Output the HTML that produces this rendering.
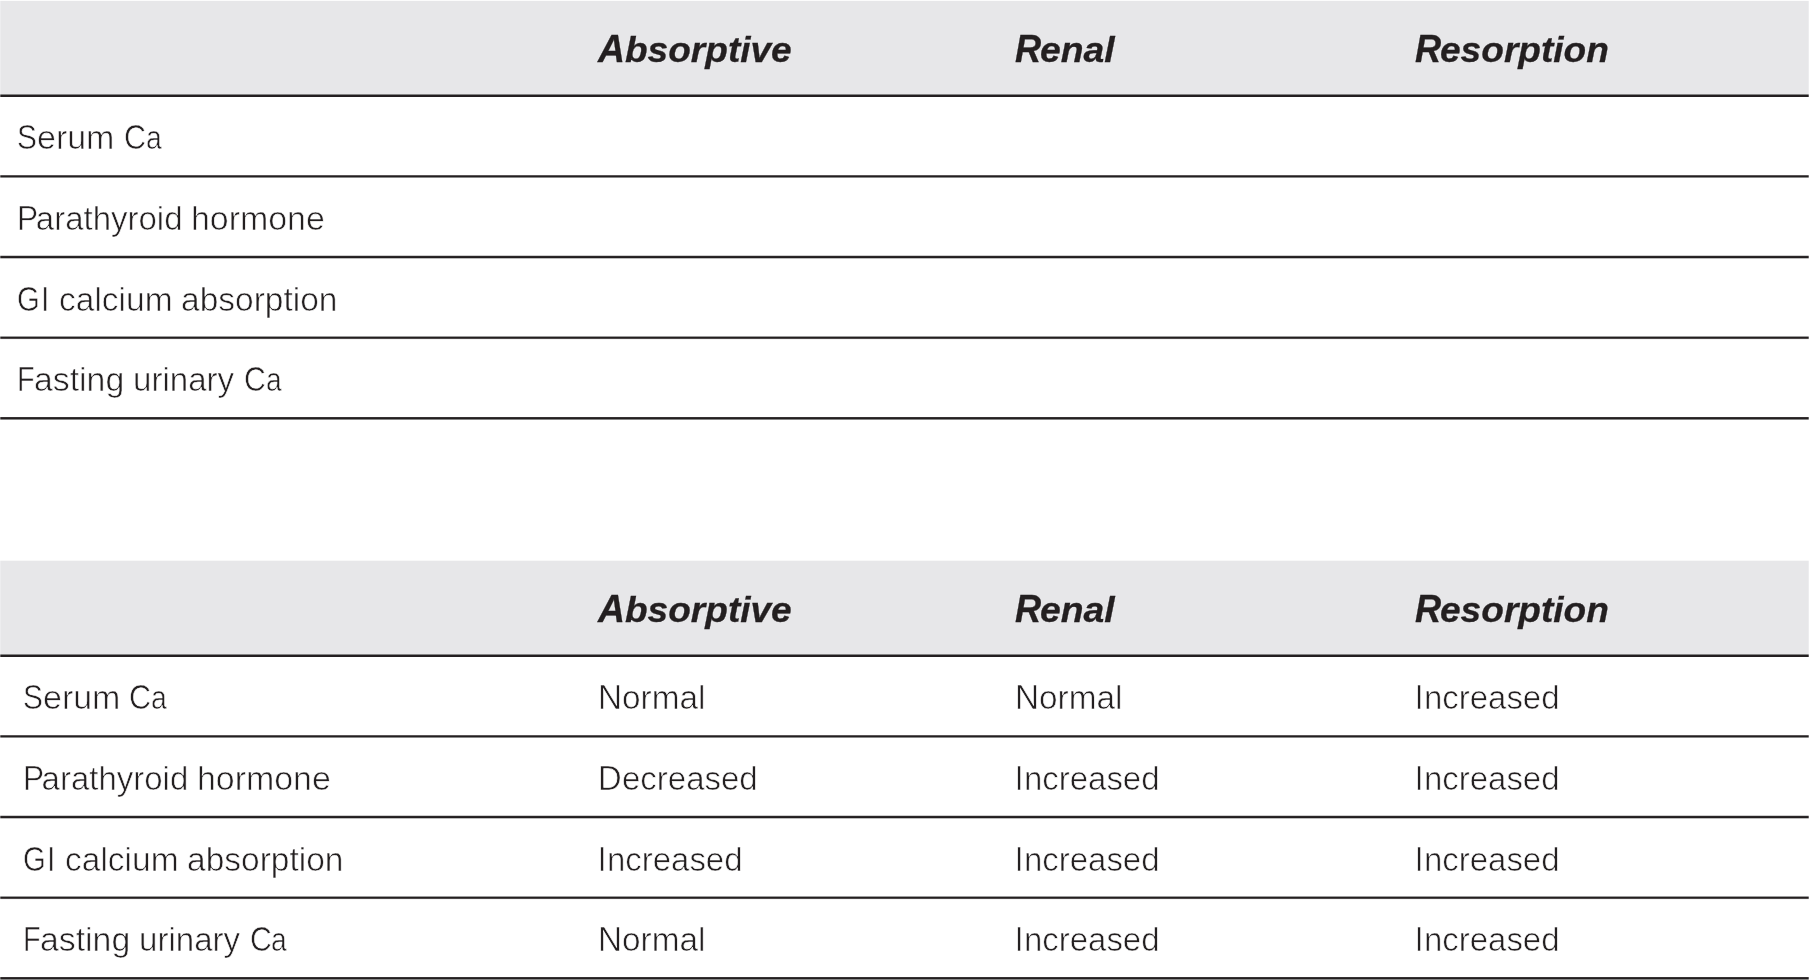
<!DOCTYPE html>
<html><head><meta charset="utf-8"><title>Table</title>
<style>
html,body{margin:0;padding:0;background:#fff;}
body{width:1809px;height:980px;position:relative;overflow:hidden;font-family:"Liberation Sans",sans-serif;color:#231f20;}
.hd{position:absolute;left:0;width:1809px;background:#e7e7e9;}
.ln{position:absolute;left:0;width:1809px;}
#tx{position:absolute;left:0;top:0;width:1809px;height:980px;will-change:transform;}
#tx span{position:absolute;white-space:nowrap;line-height:40px;transform-origin:0 0;}
.tl{font-size:33.0px;-webkit-text-stroke:0.6px #fff;}
.tc{font-size:34.3px;-webkit-text-stroke:0.6px #fff;}
.hl{font-size:35.9px;font-weight:bold;font-style:italic;-webkit-text-stroke:0.3px #231f20;}
.hc{font-size:38.0px;font-weight:bold;font-style:italic;-webkit-text-stroke:0.3px #231f20;}
.ed{position:absolute;top:0;width:1px;height:980px;background:rgba(255,255,255,.28);}
</style></head><body>
<div class="hd" style="top:0px;height:95px;background:linear-gradient(#fcfcfc 0,#fcfcfc 1px,#e7e7e9 1px)"></div>
<div class="ln" style="top:94px;height:3px;background:linear-gradient(#848484 0px,#848484 1px,#231f20 1px,#231f20 2px,#231f20 2px,#231f20 3px)"></div>
<div class="ln" style="top:175px;height:3px;background:linear-gradient(#5a5657 0px,#5a5657 1px,#231f20 1px,#231f20 2px,#8a8a8a 2px,#8a8a8a 3px)"></div>
<div class="ln" style="top:255px;height:4px;background:linear-gradient(#cfcfcf 0px,#cfcfcf 1px,#2a2627 1px,#2a2627 2px,#231f20 2px,#231f20 3px,#bdbdbd 3px,#bdbdbd 4px)"></div>
<div class="ln" style="top:336px;height:4px;background:linear-gradient(#9c9c9c 0px,#9c9c9c 1px,#231f20 1px,#231f20 2px,#4b4748 2px,#4b4748 3px,#f4f4f4 3px,#f4f4f4 4px)"></div>
<div class="ln" style="top:417px;height:3px;background:linear-gradient(#353132 0px,#353132 1px,#231f20 1px,#231f20 2px,#868686 2px,#868686 3px)"></div>
<div class="hd" style="top:560px;height:95px;background:linear-gradient(#f8f8f8 0,#f8f8f8 1px,#e7e7e9 1px)"></div>
<div class="ln" style="top:654px;height:3px;background:linear-gradient(#848484 0px,#848484 1px,#231f20 1px,#231f20 2px,#231f20 2px,#231f20 3px)"></div>
<div class="ln" style="top:735px;height:3px;background:linear-gradient(#5a5657 0px,#5a5657 1px,#231f20 1px,#231f20 2px,#8a8a8a 2px,#8a8a8a 3px)"></div>
<div class="ln" style="top:815px;height:4px;background:linear-gradient(#cfcfcf 0px,#cfcfcf 1px,#2a2627 1px,#2a2627 2px,#231f20 2px,#231f20 3px,#bdbdbd 3px,#bdbdbd 4px)"></div>
<div class="ln" style="top:896px;height:4px;background:linear-gradient(#9c9c9c 0px,#9c9c9c 1px,#231f20 1px,#231f20 2px,#4b4748 2px,#4b4748 3px,#f4f4f4 3px,#f4f4f4 4px)"></div>
<div class="ln" style="top:977px;height:3px;background:linear-gradient(#353132 0px,#353132 1px,#231f20 1px,#231f20 2px,#868686 2px,#868686 3px)"></div>
<div id="tx">
<span class="hc" style="left:597.88px;top:29px;transform:scaleX(0.981)">A</span><span class="hl" style="left:625.28px;top:30px;transform:scaleX(1.032)">bsorptive</span>
<span class="hc" style="left:1014.62px;top:29px;transform:scaleX(0.952)">R</span><span class="hl" style="left:1040.12px;top:30px;transform:scaleX(1.040)">enal</span>
<span class="hc" style="left:1414.62px;top:29px;transform:scaleX(0.952)">R</span><span class="hl" style="left:1440.13px;top:30px;transform:scaleX(1.033)">esorption</span>
<span class="tc" style="left:17.22px;top:117px;transform:scaleX(0.871)">S</span><span class="tl" style="left:37.36px;top:118px;transform:scaleX(1.029)">erum</span> <span class="tc" style="left:123.52px;top:117px;transform:scaleX(0.890)">C</span><span class="tl" style="left:145.59px;top:118px;transform:scaleX(0.861)">a</span>
<span class="tc" style="left:17.23px;top:198px;transform:scaleX(0.924)">P</span><span class="tl" style="left:35.80px;top:199px;transform:scaleX(1.000)">arathyroid</span> <span class="tl" style="left:191.43px;top:199px;transform:scaleX(1.027)">hormone</span>
<span class="tc" style="left:17.49px;top:279px;transform:scaleX(0.855)">G</span><span class="tc" style="left:41.48px;top:279px;transform:scaleX(0.883)">I</span> <span class="tl" style="left:59.22px;top:280px;transform:scaleX(1.015)">calcium</span> <span class="tl" style="left:181.22px;top:280px;transform:scaleX(1.015)">absorption</span>
<span class="tc" style="left:17.47px;top:359px;transform:scaleX(0.842)">F</span><span class="tl" style="left:34.16px;top:360px;transform:scaleX(1.024)">asting</span> <span class="tl" style="left:133.15px;top:360px;transform:scaleX(1.002)">urinary</span> <span class="tc" style="left:243.94px;top:359px;transform:scaleX(0.881)">C</span><span class="tl" style="left:265.70px;top:360px;transform:scaleX(0.855)">a</span>
<span class="hc" style="left:597.88px;top:589px;transform:scaleX(0.981)">A</span><span class="hl" style="left:625.28px;top:590px;transform:scaleX(1.032)">bsorptive</span>
<span class="hc" style="left:1014.62px;top:589px;transform:scaleX(0.952)">R</span><span class="hl" style="left:1040.12px;top:590px;transform:scaleX(1.040)">enal</span>
<span class="hc" style="left:1414.62px;top:589px;transform:scaleX(0.952)">R</span><span class="hl" style="left:1440.13px;top:590px;transform:scaleX(1.033)">esorption</span>
<span class="tc" style="left:22.97px;top:677px;transform:scaleX(0.871)">S</span><span class="tl" style="left:43.11px;top:678px;transform:scaleX(1.029)">erum</span> <span class="tc" style="left:129.27px;top:677px;transform:scaleX(0.890)">C</span><span class="tl" style="left:151.34px;top:678px;transform:scaleX(0.861)">a</span>
<span class="tc" style="left:597.79px;top:677px;transform:scaleX(0.971)">N</span><span class="tl" style="left:621.99px;top:678px;transform:scaleX(1.010)">ormal</span>
<span class="tc" style="left:1014.69px;top:677px;transform:scaleX(0.971)">N</span><span class="tl" style="left:1038.89px;top:678px;transform:scaleX(1.010)">ormal</span>
<span class="tc" style="left:1415.08px;top:677px;transform:scaleX(0.867)">I</span><span class="tl" style="left:1424.00px;top:678px;transform:scaleX(0.998)">ncreased</span>
<span class="tc" style="left:22.98px;top:758px;transform:scaleX(0.924)">P</span><span class="tl" style="left:41.55px;top:759px;transform:scaleX(1.000)">arathyroid</span> <span class="tl" style="left:197.18px;top:759px;transform:scaleX(1.027)">hormone</span>
<span class="tc" style="left:597.84px;top:758px;transform:scaleX(0.955)">D</span><span class="tl" style="left:622.10px;top:759px;transform:scaleX(0.999)">ecreased</span>
<span class="tc" style="left:1015.28px;top:758px;transform:scaleX(0.867)">I</span><span class="tl" style="left:1024.20px;top:759px;transform:scaleX(0.998)">ncreased</span>
<span class="tc" style="left:1415.08px;top:758px;transform:scaleX(0.867)">I</span><span class="tl" style="left:1424.00px;top:759px;transform:scaleX(0.998)">ncreased</span>
<span class="tc" style="left:23.24px;top:839px;transform:scaleX(0.855)">G</span><span class="tc" style="left:47.23px;top:839px;transform:scaleX(0.883)">I</span> <span class="tl" style="left:64.97px;top:840px;transform:scaleX(1.015)">calcium</span> <span class="tl" style="left:186.97px;top:840px;transform:scaleX(1.015)">absorption</span>
<span class="tc" style="left:598.28px;top:839px;transform:scaleX(0.867)">I</span><span class="tl" style="left:607.20px;top:840px;transform:scaleX(0.998)">ncreased</span>
<span class="tc" style="left:1015.28px;top:839px;transform:scaleX(0.867)">I</span><span class="tl" style="left:1024.20px;top:840px;transform:scaleX(0.998)">ncreased</span>
<span class="tc" style="left:1415.08px;top:839px;transform:scaleX(0.867)">I</span><span class="tl" style="left:1424.00px;top:840px;transform:scaleX(0.998)">ncreased</span>
<span class="tc" style="left:23.22px;top:919px;transform:scaleX(0.842)">F</span><span class="tl" style="left:39.91px;top:920px;transform:scaleX(1.024)">asting</span> <span class="tl" style="left:138.90px;top:920px;transform:scaleX(1.002)">urinary</span> <span class="tc" style="left:249.69px;top:919px;transform:scaleX(0.881)">C</span><span class="tl" style="left:271.45px;top:920px;transform:scaleX(0.855)">a</span>
<span class="tc" style="left:597.79px;top:919px;transform:scaleX(0.971)">N</span><span class="tl" style="left:621.99px;top:920px;transform:scaleX(1.010)">ormal</span>
<span class="tc" style="left:1015.28px;top:919px;transform:scaleX(0.867)">I</span><span class="tl" style="left:1024.20px;top:920px;transform:scaleX(0.998)">ncreased</span>
<span class="tc" style="left:1415.08px;top:919px;transform:scaleX(0.867)">I</span><span class="tl" style="left:1424.00px;top:920px;transform:scaleX(0.998)">ncreased</span>
</div>
<div class="ed" style="left:0"></div><div class="ed" style="left:1808px"></div>
</body></html>
